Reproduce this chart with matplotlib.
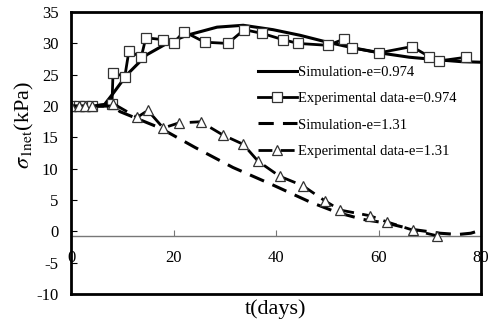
import matplotlib
matplotlib.use("Agg")
import matplotlib.pyplot as plt

plt.rcParams['font.family'] = ['Liberation Serif', 'DejaVu Serif']
plt.rcParams['mathtext.fontset'] = 'stix'

# Simulation e=0.974
sim1_x = [0, 6.3, 8.2, 10.9, 14.8, 18.7, 22.6, 28.5, 33.6, 39.4, 44.7, 50, 55, 61, 66, 71.4, 76, 80]
sim1_y = [20, 20, 22, 25.0, 28.2, 30, 31.3, 32.6, 32.9, 32.2, 31.3, 30.2, 29.3, 28.4, 27.8, 27.4, 27.1, 27.0]

# Experimental e=0.974
exp1_x = [0, 1.5, 2.8, 4, 8.0, 8.2, 10.5, 11.3, 13.7, 14.6, 18, 20, 22, 26.1, 30.6, 33.8, 37.3,
          41.4, 44.3, 50.1, 53.3, 54.8, 60.1, 66.5, 69.9, 71.8, 77.1]
exp1_y = [20, 20, 20, 20, 20.4, 25.3, 24.7, 28.8, 27.8, 30.9, 30.6, 30.0, 31.9, 30.2, 30.0, 32.2, 31.6,
          30.6, 30.0, 29.7, 30.7, 29.3, 28.5, 29.5, 27.9, 27.2, 27.8]

# Simulation e=1.31
sim2_x = [0, 8, 9.6, 17.4, 24.2, 31.6, 39.4, 46.6, 52, 57, 61.7, 66.7, 72, 75.5, 78, 80]
sim2_y = [20, 20, 19.1, 16.5, 13.4, 10.2, 7.4, 4.7, 3.0, 1.9, 1.3, 0.3, -0.3, -0.5, -0.3, 0.2]

# Experimental e=1.31
exp2_x = [0, 1.5, 2.8, 4, 8.2, 12.9, 15, 18, 21, 25.3, 29.6, 33.6, 36.5, 40.7, 45.2, 49.5, 52.5,
          58.3, 61.7, 66.7, 71.4]
exp2_y = [20, 20, 20, 20, 20.4, 18.2, 19.3, 16.5, 17.3, 17.5, 15.4, 13.9, 11.2, 8.8, 7.3, 4.9, 3.4,
          2.5, 1.5, 0.2, -0.7]

labels = ['Simulation-e=0.974', 'Experimental data-e=0.974', 'Simulation-e=1.31', 'Experimental data-e=1.31']
xticks = [0, 20, 40, 60, 80]
yticks = [-10, -5, 0, 5, 10, 15, 20, 25, 30, 35]

fig = plt.figure(figsize=(5.0, 3.24), dpi=100)
ax = fig.add_axes([0.142, 0.0926, 0.82, 0.870])

ax.plot(sim1_x, sim1_y, color='black', lw=2.2, label=labels[0])
ax.plot(exp1_x, exp1_y, color='black', lw=2.0, marker='s', ms=6.5, mfc='white', mec='#333333', mew=0.9,
        label=labels[1])
ax.plot(sim2_x, sim2_y, color='black', lw=2.2, dashes=(5, 3), label=labels[2])
ax.plot(exp2_x, exp2_y, color='black', lw=2.0, dashes=(5, 3), marker='^', ms=6.5, mfc='white',
        mec='#333333', mew=0.9, label=labels[3])

ax.set_xlim(0, 80)
ax.set_ylim(-10, 35)
ax.set_yticks(yticks)
ax.set_yticklabels([str(v) for v in yticks])
ax.tick_params(axis='y', direction='in', length=4, width=0.8, pad=9, labelsize=12)
ax.set_xticks([])
for s in ax.spines.values():
    s.set_linewidth(2.0)
    s.set_color('black')

# inner horizontal axis crossing at y = -0.8
frac = (-0.8 - (-10)) / 45.0
sec = ax.secondary_xaxis(frac)
sec.set_xticks(xticks)
sec.set_xticklabels([str(v) for v in xticks])
sec.spines['bottom'].set_color('#777777')
sec.spines['bottom'].set_linewidth(1.0)
sec.tick_params(direction='in', length=4, width=0.8, color='#777777', pad=10, labelsize=12)

ax.set_ylabel(r'$\sigma_{\mathrm{1net}}$(kPa)', fontsize=16)
ax.yaxis.set_label_coords(-0.085, 0.60)
ax.set_xlabel('t(days)', fontsize=16, labelpad=4)

leg = ax.legend(loc='upper left', bbox_to_anchor=(0.455, 0.81), frameon=False, fontsize=10.5,
                handlelength=2.7, handletextpad=0.1, labelspacing=0.9, borderpad=0, borderaxespad=0)

fig.savefig('out.png', dpi=100)
